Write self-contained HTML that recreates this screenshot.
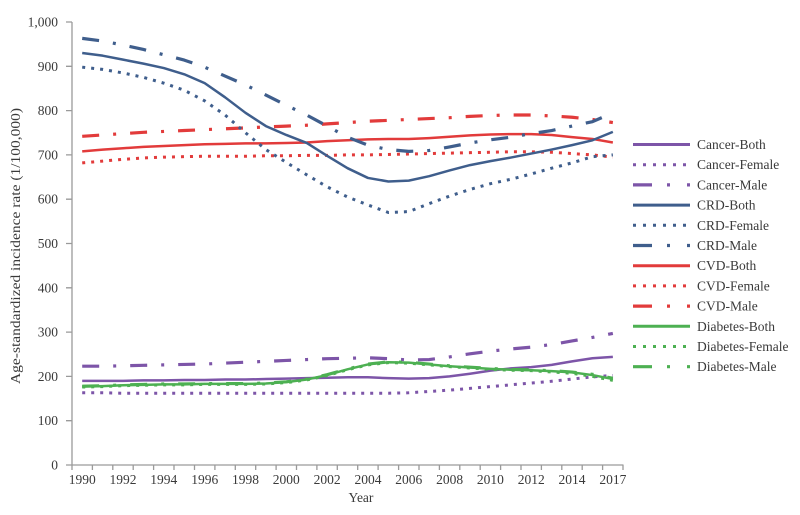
<!DOCTYPE html>
<html>
<head>
<meta charset="utf-8">
<style>
  html,body{margin:0;padding:0;background:#fff;}
  svg{display:block;}
  text{font-family:"Liberation Serif","Times New Roman",serif;fill:#3a3a3a;}
  .s{fill:none;stroke-linejoin:round;vector-effect:non-scaling-stroke;}
</style>
</head>
<body>
<svg width="800" height="515" viewBox="0 0 800 515" xmlns="http://www.w3.org/2000/svg">
  <rect width="800" height="515" fill="#fff"/>
  <!-- axes -->
  <g stroke="#9a9a9a" stroke-width="1.3" fill="none">
    <line x1="72" y1="22" x2="72" y2="465.5"/>
    <line x1="71.5" y1="465" x2="623.5" y2="465"/>
    <!-- y ticks -->
    <path d="M66 22H72M66 66.3H72M66 110.6H72M66 154.9H72M66 199.2H72M66 243.5H72M66 287.8H72M66 332.1H72M66 376.4H72M66 420.7H72M66 465H72"/>
    <!-- x ticks -->
    <path d="M72 465V470M92.4 465V470M112.8 465V470M133.2 465V470M153.6 465V470M174 465V470M194.5 465V470M214.9 465V470M235.3 465V470M255.7 465V470M276.1 465V470M296.5 465V470M316.9 465V470M337.3 465V470M357.7 465V470M378.1 465V470M398.6 465V470M419 465V470M439.4 465V470M459.8 465V470M480.2 465V470M500.6 465V470M521 465V470M541.4 465V470M561.8 465V470M582.2 465V470M602.6 465V470M623 465V470"/>
  </g>
  <!-- y tick labels -->
  <g font-size="13.5" text-anchor="end">
    <text x="58" y="26.5">1,000</text>
    <text x="58" y="70.8">900</text>
    <text x="58" y="115.1">800</text>
    <text x="58" y="159.4">700</text>
    <text x="58" y="203.7">600</text>
    <text x="58" y="248">500</text>
    <text x="58" y="292.3">400</text>
    <text x="58" y="336.6">300</text>
    <text x="58" y="380.9">200</text>
    <text x="58" y="425.2">100</text>
    <text x="58" y="469.5">0</text>
  </g>
  <!-- x tick labels -->
  <g font-size="13.5" text-anchor="middle">
    <text x="82.2" y="484">1990</text>
    <text x="123" y="484">1992</text>
    <text x="163.8" y="484">1994</text>
    <text x="204.7" y="484">1996</text>
    <text x="245.5" y="484">1998</text>
    <text x="286.3" y="484">2000</text>
    <text x="327.1" y="484">2002</text>
    <text x="368" y="484">2004</text>
    <text x="408.8" y="484">2006</text>
    <text x="449.6" y="484">2008</text>
    <text x="490.4" y="484">2010</text>
    <text x="531.2" y="484">2012</text>
    <text x="572" y="484">2014</text>
    <text x="612.9" y="484">2017</text>
  </g>
  <text x="361" y="502" font-size="13.5" text-anchor="middle">Year</text>
  <text transform="translate(20,246) rotate(-90)" font-size="13.5" text-anchor="middle" textLength="276" lengthAdjust="spacingAndGlyphs">Age-standardized incidence rate (1/100,000)</text>

  <!-- series: data coordinates (index, value) -->
  <g transform="translate(82.2,465) scale(20.41,-0.443)">
    <!-- Cancer -->
    <polyline class="s" stroke="#7d55a8" stroke-width="2.5" points="0,190 1,190 2,190 3,191 4,191 5,192 6,192 7,193 8,193 9,194 10,195 11,196 12,197 13,198 14,198 15,196 16,195 17,196 18,200 19,206 20,213 21,218 22,221 23,226 24,234 25,241 26,244"/>
    <polyline class="s" stroke="#7d55a8" stroke-width="3" stroke-dasharray="3 6" points="0,163 1,163 2,162 3,162 4,162 5,162 6,162 7,162 8,162 9,162 10,162 11,162 12,162 13,162 14,162 15,162 16,163 17,166 18,169 19,173 20,177 21,181 22,185 23,189 24,194 25,199 26,202"/>
    <polyline class="s" stroke="#7d55a8" stroke-width="3.2" stroke-dasharray="17 14 3 14" points="0,223 1,223 2,224 3,225 4,226 5,227 6,228 7,230 8,232 9,234 10,236 11,238 12,240 13,241 14,242 15,240 16,237 17,238 18,244 19,251 20,257 21,262 22,266 23,272 24,280 25,288 26,297"/>
    <!-- Diabetes -->
    <polyline class="s" stroke="#4db052" stroke-width="3" stroke-dasharray="3 6" points="0,176 1,177 2,179 3,180 4,181 5,181 6,182 7,182 8,182 9,183 10,186 11,192 12,202 13,215 14,226 15,231 16,230 17,226 18,222 19,219 20,216 21,214 22,213 23,210 24,207 25,200 26,191"/>
    <polyline class="s" stroke="#4db052" stroke-width="3" stroke-dasharray="17 14 3 14" points="0,178 1,179 2,181 3,182 4,183 5,183 6,184 7,184 8,184 9,185 10,188 11,194 12,204 13,217 14,228 15,233 16,232 17,228 18,224 19,221 20,218 21,216 22,215 23,213 24,210 25,205 26,196"/>
    <polyline class="s" stroke="#4db052" stroke-width="2.5" points="0,177 1,178 2,180 3,181 4,182 5,182 6,183 7,183 8,183 9,184 10,187 11,193 12,203 13,216 14,227 15,232 16,231 17,227 18,223 19,220 20,217 21,215 22,214 23,212 24,209 25,203 26,194"/>
    <!-- CVD -->
    <polyline class="s" stroke="#e23b3b" stroke-width="2.5" points="0,708 1,712 2,715 3,718 4,720 5,722 6,724 7,725 8,726 9,726 10,727 11,728 12,731 13,733 14,735 15,736 16,736 17,738 18,741 19,744 20,746 21,747 22,747 23,745 24,740 25,736 26,728"/>
    <polyline class="s" stroke="#e23b3b" stroke-width="3" stroke-dasharray="3 6" points="0,682 1,686 2,690 3,693 4,695 5,696 6,697 7,697 8,697 9,698 10,698 11,699 12,699 13,700 14,700 15,701 16,702 17,703 18,704 19,705 20,706 21,707 22,707 23,706 24,703 25,700 26,695"/>
    <polyline class="s" stroke="#e23b3b" stroke-width="3.2" stroke-dasharray="17 14 3 14" points="0,742 1,745 2,748 3,751 4,753 5,755 6,757 7,759 8,761 9,763 10,765 11,767 12,770 13,773 14,776 15,778 16,780 17,782 18,784 19,787 20,789 21,790 22,790 23,788 24,785 25,780 26,773"/>
    <!-- CRD -->
    <polyline class="s" stroke="#3f5e8c" stroke-width="2.5" points="0,930 1,924 2,915 3,906 4,896 5,882 6,862 7,830 8,795 9,765 10,745 11,727 12,698 13,670 14,648 15,640 16,642 17,652 18,665 19,677 20,686 21,694 22,703 23,712 24,722 25,733 26,752"/>
    <polyline class="s" stroke="#3f5e8c" stroke-width="3" stroke-dasharray="3 6" points="0,898 1,893 2,885 3,875 4,862 5,846 6,822 7,790 8,750 9,712 10,683 11,655 12,628 13,605 14,587 15,570 16,572 17,590 18,607 19,622 20,635 21,645 22,657 23,670 24,682 25,696 26,700"/>
    <polyline class="s" stroke="#3f5e8c" stroke-width="3.2" stroke-dasharray="17 14 3 14" points="0,963 1,957 2,948 3,938 4,926 5,914 6,898 7,878 8,858 9,835 10,812 11,790 12,765 13,740 14,722 15,712 16,708 17,710 18,718 19,727 20,734 21,740 22,748 23,755 24,765 25,775 26,795"/>
  </g>

  <!-- legend -->
  <g fill="none">
    <line x1="633" y1="144.5" x2="690" y2="144.5" stroke="#7d55a8" stroke-width="3"/>
    <line x1="633" y1="164.7" x2="690" y2="164.7" stroke="#7d55a8" stroke-width="3" stroke-dasharray="3 7"/>
    <line x1="633" y1="184.9" x2="690" y2="184.9" stroke="#7d55a8" stroke-width="3.2" stroke-dasharray="19 15 3 17 3 10"/>
    <line x1="633" y1="205.1" x2="690" y2="205.1" stroke="#3f5e8c" stroke-width="3"/>
    <line x1="633" y1="225.3" x2="690" y2="225.3" stroke="#3f5e8c" stroke-width="3" stroke-dasharray="3 7"/>
    <line x1="633" y1="245.5" x2="690" y2="245.5" stroke="#3f5e8c" stroke-width="3.2" stroke-dasharray="19 15 3 17 3 10"/>
    <line x1="633" y1="265.7" x2="690" y2="265.7" stroke="#e23b3b" stroke-width="3"/>
    <line x1="633" y1="285.9" x2="690" y2="285.9" stroke="#e23b3b" stroke-width="3" stroke-dasharray="3 7"/>
    <line x1="633" y1="306.1" x2="690" y2="306.1" stroke="#e23b3b" stroke-width="3.2" stroke-dasharray="19 15 3 17 3 10"/>
    <line x1="633" y1="326.3" x2="690" y2="326.3" stroke="#4db052" stroke-width="3"/>
    <line x1="633" y1="346.5" x2="690" y2="346.5" stroke="#4db052" stroke-width="3" stroke-dasharray="3 7"/>
    <line x1="633" y1="366.7" x2="690" y2="366.7" stroke="#4db052" stroke-width="3.2" stroke-dasharray="19 15 3 17 3 10"/>
  </g>
  <g font-size="13.5">
    <text x="697" y="149">Cancer-Both</text>
    <text x="697" y="169.2">Cancer-Female</text>
    <text x="697" y="189.4">Cancer-Male</text>
    <text x="697" y="209.6">CRD-Both</text>
    <text x="697" y="229.8">CRD-Female</text>
    <text x="697" y="250">CRD-Male</text>
    <text x="697" y="270.2">CVD-Both</text>
    <text x="697" y="290.4">CVD-Female</text>
    <text x="697" y="310.6">CVD-Male</text>
    <text x="697" y="330.8">Diabetes-Both</text>
    <text x="697" y="351">Diabetes-Female</text>
    <text x="697" y="371.2">Diabetes-Male</text>
  </g>
</svg>
</body>
</html>
